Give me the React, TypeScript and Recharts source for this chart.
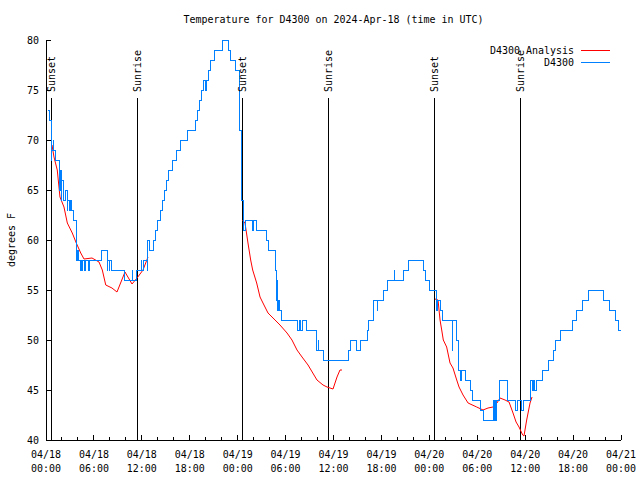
import { LineChart, Line, XAxis, YAxis, ReferenceLine, ReferenceDot, Customized } from 'recharts';

// hours since 04/18 00:00 UTC, degrees F
const d4300: [number, number][] = [
  [0.29, 73], [0.5, 72], [0.63, 68], [0.69, 71], [0.75, 69], [0.88, 70], [1.0, 69], [1.25, 68],
  [1.75, 65], [1.8, 67], [1.88, 64], [1.95, 67], [2.0, 66], [2.25, 64], [2.38, 65], [2.63, 63],
  [2.75, 64], [2.88, 63], [3.13, 64], [3.25, 63], [3.5, 62], [3.76, 60], [3.88, 58], [4.0, 59],
  [4.13, 58], [4.26, 57], [4.38, 58], [4.5, 57], [4.63, 58], [4.88, 57], [5.0, 58], [5.26, 57],
  [5.5, 58], [6.89, 59], [7.64, 57], [7.76, 58], [7.89, 57], [8.01, 58], [8.14, 57], [9.77, 56],
  [10.77, 57], [10.89, 56], [11.27, 57], [11.9, 58], [12.02, 57], [12.27, 58], [12.65, 57],
  [12.77, 60], [13.02, 59], [13.4, 60], [13.65, 61], [14.02, 62], [14.28, 63], [14.65, 64],
  [14.9, 65], [15.15, 66], [15.4, 67], [15.78, 68], [16.28, 69], [16.78, 70], [17.66, 71],
  [18.66, 72], [19.03, 73], [19.28, 74], [19.53, 75], [19.66, 76], [19.91, 75], [20.04, 76],
  [20.29, 77], [20.54, 78], [21.16, 79], [22.04, 80], [22.79, 79], [23.04, 78], [23.67, 77],
  [24.17, 74], [24.29, 71], [24.42, 67], [24.54, 64], [24.67, 62], [24.79, 61], [24.92, 62],
  [25.8, 61], [25.92, 62], [26.42, 61], [27.67, 60], [27.92, 59], [28.68, 57], [28.8, 54],
  [28.92, 56], [29.05, 53], [29.17, 54], [29.3, 53], [29.55, 52], [31.55, 51], [31.68, 52],
  [31.93, 51], [32.06, 52], [32.68, 51], [33.81, 50], [33.93, 49], [34.06, 50], [34.18, 49],
  [34.69, 48], [37.82, 49], [38.07, 50], [38.82, 49], [39.32, 50], [40.2, 51], [40.32, 52],
  [40.95, 53], [41.07, 54], [41.45, 53], [41.57, 54], [42.2, 55], [42.7, 56], [43.58, 57],
  [43.7, 56], [44.71, 57], [45.45, 58], [47.21, 57], [47.58, 56], [47.96, 55], [48.84, 53],
  [48.96, 54], [49.46, 53], [49.71, 52], [50.84, 49], [50.96, 52], [51.46, 50], [51.59, 48],
  [51.71, 47], [51.96, 46], [52.09, 47], [52.47, 46], [53.1, 45], [53.35, 44], [54.35, 43],
  [54.73, 42], [55.98, 44], [56.1, 42], [56.23, 44], [56.35, 42], [56.47, 44], [56.73, 46],
  [57.73, 45], [57.85, 44], [58.73, 43], [59.1, 44], [59.48, 43], [59.73, 44], [60.73, 46],
  [60.98, 45], [61.1, 46], [61.23, 45], [61.36, 46], [62.23, 47], [62.86, 48], [63.49, 49],
  [63.74, 50], [64.37, 51], [65.87, 52], [66.49, 53], [67.24, 54], [67.99, 55], [69.75, 54],
  [70.5, 53], [71.25, 52], [71.63, 51], [72, 51],
];

const analysis1: [number, number][] = [
  [0.75, 69.5], [1.0, 68.3], [1.41, 67], [1.75, 64.3], [2.25, 63.3], [2.67, 61.7], [3.29, 60.7],
  [3.79, 59.7], [4.35, 58.7], [4.76, 58.1], [5.76, 58.2], [6.64, 57.8], [7.05, 57], [7.48, 55.5],
  [8.26, 55.2], [8.89, 54.8], [9.89, 56.8], [10.77, 55.6], [11.4, 56.2], [12.15, 57], [12.77, 58.3],
];
const analysis2: [number, number][] = [
  [24.6, 62], [24.92, 61.7], [25.29, 59.7], [25.63, 58], [25.88, 57], [26.38, 55.7], [26.8, 54.3],
  [27.17, 53.7], [27.8, 52.7], [28.68, 52], [29.3, 51.5], [30.18, 50.7], [30.8, 50], [31.43, 49],
  [32.06, 48.3], [32.81, 47.5], [33.93, 46], [34.69, 45.5], [35.19, 45.3], [35.94, 45.1],
  [36.44, 46.3], [36.81, 47], [37.06, 47],
];
const analysis3: [number, number][] = [
  [48.71, 54.1], [49.09, 54], [49.34, 52], [49.55, 51], [49.75, 50], [50.17, 49.3], [50.59, 47.7],
  [50.96, 47.2], [51.43, 46], [51.72, 45.3], [52.22, 44.5], [52.85, 43.7], [53.93, 43.3],
  [54.72, 43], [55.35, 43.2], [55.97, 43.3], [56.47, 43.7], [56.85, 44.2], [57.48, 44],
  [57.98, 43.8], [58.48, 42.7], [58.86, 41.8], [59.23, 41.3], [59.69, 40.5], [59.85, 40.4],
  [60.19, 42], [60.61, 43.7], [60.86, 44.3],
];

const sunHours = [0.66, 11.43, 24.58, 35.35, 48.63, 59.4];
const sunNames = ['Sunset', 'Sunrise', 'Sunset', 'Sunrise', 'Sunset', 'Sunrise'];
const sunTop = 74.2;

const hourTicks = [0, 2, 4, 6, 8, 10, 12, 14, 16, 18, 20, 22, 24, 26, 28, 30, 32, 34, 36, 38, 40, 42, 44, 46, 48, 50, 52, 54, 56, 58, 60, 62, 64, 66, 68, 70, 72];
const dateLabels = ['04/18', '04/18', '04/18', '04/18', '04/19', '04/19', '04/19', '04/19', '04/20', '04/20', '04/20', '04/20', '04/21'];
const timeLabels = ['00:00', '06:00', '12:00', '18:00', '00:00', '06:00', '12:00', '18:00', '00:00', '06:00', '12:00', '18:00', '00:00'];
const tempTicks = [40, 45, 50, 55, 60, 65, 70, 75, 80];

const RED = '#ff0000';
const BLUE = '#0080ff';
const toRows = (pts: [number, number][]) => pts.map(([h, v]) => ({ h, v }));

function Mono({ x, y, text, anchor = 'start' }: { x: number; y: number; text: string; anchor?: string }) {
  const w = text.length * 6;
  const x0 = anchor === 'end' ? x - w : anchor === 'middle' ? x - w / 2 : x;
  return (
    <text x={x0} y={y} fontFamily="'DejaVu Sans Mono', monospace" fontSize={11} textLength={w} lengthAdjust="spacingAndGlyphs" fill="#000">
      {text}
    </text>
  );
}

function BottomTick(props: any) {
  const { x, y, payload } = props;
  const major = payload.value % 6 === 0;
  const i = payload.value / 6;
  return (
    <g>
      <line x1={x} y1={y} x2={x} y2={y - (major ? 5 : 3)} stroke="#000" shapeRendering="crispEdges" />
      {major && <Mono x={x} y={y + 18} text={dateLabels[i]} anchor="middle" />}
      {major && <Mono x={x} y={y + 32} text={timeLabels[i]} anchor="middle" />}
    </g>
  );
}

function TopTick(props: any) {
  const { x, y, payload } = props;
  const major = payload.value % 6 === 0;
  return <line x1={x} y1={y} x2={x} y2={y + (major ? 5 : 3)} stroke="#000" shapeRendering="crispEdges" />;
}

function LeftTick(props: any) {
  const { x, y, payload } = props;
  return (
    <g>
      <line x1={x} y1={y} x2={x + 5} y2={y} stroke="#000" shapeRendering="crispEdges" />
      <Mono x={x - 7} y={y + 4} text={String(payload.value)} anchor="end" />
    </g>
  );
}

function RightTick(props: any) {
  const { x, y } = props;
  return <line x1={x} y1={y} x2={x - 5} y2={y} stroke="#000" shapeRendering="crispEdges" />;
}

function Decorations() {
  return (
    <g>
      <Mono x={333.5} y={23} text="Temperature for D4300 on 2024-Apr-18 (time in UTC)" anchor="middle" />
      <g transform="translate(15, 240) rotate(-90)">
        <Mono x={0} y={0} text="degrees F" anchor="middle" />
      </g>
      <Mono x={574} y={54} text="D4300 Analysis" anchor="end" />
      <line x1={581} y1={50} x2={610} y2={50} stroke={RED} shapeRendering="crispEdges" />
      <Mono x={574} y={66} text="D4300" anchor="end" />
      <line x1={581} y1={62} x2={610} y2={62} stroke={BLUE} shapeRendering="crispEdges" />
    </g>
  );
}

const axisStroke = { stroke: '#000', shapeRendering: 'crispEdges' };

export default function App() {
  return (
    <div style={{ position: 'absolute', left: 0, top: 0, width: 640, height: 480, background: '#fff' }}>
      <LineChart width={640} height={480} margin={{ top: 40, right: 19, bottom: 0, left: 0 }}>
        <XAxis xAxisId="b" type="number" dataKey="h" domain={[0, 72]} ticks={hourTicks} interval={0}
          allowDataOverflow orientation="bottom" height={40} tickSize={0} tickMargin={0} tickLine={false}
          axisLine={axisStroke} tick={<BottomTick />} />
        <XAxis xAxisId="t" type="number" dataKey="h" domain={[0, 72]} ticks={hourTicks} interval={0}
          allowDataOverflow orientation="top" height={0} tickSize={0} tickMargin={0} tickLine={false}
          axisLine={axisStroke} tick={<TopTick />} />
        <YAxis yAxisId="l" type="number" domain={[40, 80]} ticks={tempTicks} interval={0} allowDataOverflow
          width={46} tickSize={0} tickMargin={0} tickLine={false} axisLine={axisStroke} tick={<LeftTick />} />
        <YAxis yAxisId="r" type="number" orientation="right" domain={[40, 80]} ticks={tempTicks} interval={0}
          allowDataOverflow width={0} tickSize={0} tickMargin={0} tickLine={false} axisLine={axisStroke}
          tick={<RightTick />} />
        {sunHours.map((h, i) => (
          <ReferenceLine key={'l' + i} xAxisId="b" yAxisId="l" segment={[{ x: h, y: 40 }, { x: h, y: sunTop }]}
            stroke="#000" shapeRendering="crispEdges" />
        ))}
        {sunHours.map((h, i) => (
          <ReferenceDot key={'d' + i} xAxisId="b" yAxisId="l" x={h} y={sunTop} r={0}
            shape={(p: any) => (
              <g transform={`translate(${p.cx + 4}, ${p.cy - 6}) rotate(-90)`}>
                <Mono x={0} y={0} text={sunNames[i]} />
              </g>
            )} />
        ))}
        <Line xAxisId="b" yAxisId="l" data={toRows(analysis1)} dataKey="v" type="linear" stroke={RED} strokeWidth={1} dot={false} activeDot={false} isAnimationActive={false} />
        <Line xAxisId="b" yAxisId="l" data={toRows(analysis2)} dataKey="v" type="linear" stroke={RED} strokeWidth={1} dot={false} activeDot={false} isAnimationActive={false} />
        <Line xAxisId="b" yAxisId="l" data={toRows(analysis3)} dataKey="v" type="linear" stroke={RED} strokeWidth={1} dot={false} activeDot={false} isAnimationActive={false} />
        <Line xAxisId="b" yAxisId="l" data={toRows(d4300)} dataKey="v" type="stepAfter" stroke={BLUE} strokeWidth={1}
          shapeRendering="crispEdges" dot={false} activeDot={false} isAnimationActive={false} />
        <Customized component={<Decorations />} />
      </LineChart>
    </div>
  );
}
